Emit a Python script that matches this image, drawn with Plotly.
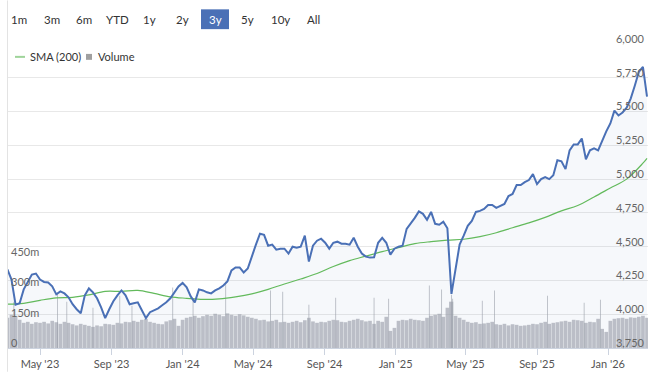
import pandas as pd
import plotly.graph_objects as go

# ---------------- data ----------------
week_start = "2023-03-06"
n_weeks = 158
price = [4331, 4257, 4070, 4081, 4184, 4235, 4294, 4301, 4257, 4239,
         4235, 4206, 4147, 4169, 4154, 4125, 4074, 4037, 4007, 4140,
         4191, 4162, 4118, 4051, 3971, 4037, 4096, 4140, 4176, 4140,
         4074, 4081, 4088, 4029, 3971, 4015, 4029, 4044, 4066, 4088,
         4118, 4162, 4206, 4232, 4199, 4132, 4088, 4184, 4176, 4162,
         4154, 4176, 4191, 4213, 4243, 4324, 4346, 4346, 4309, 4338,
         4434, 4515, 4596, 4588, 4507, 4515, 4478, 4485, 4485, 4449,
         4500, 4493, 4500, 4581, 4390, 4507, 4544, 4559, 4529, 4485,
         4529, 4537, 4522, 4522, 4515, 4566, 4500, 4449, 4426, 4419,
         4422, 4529, 4566, 4529, 4441, 4485, 4500, 4507, 4632, 4669,
         4713, 4761, 4743, 4699, 4757, 4669, 4662, 4684, 4636, 4150,
         4331, 4515, 4581, 4654, 4691, 4757, 4765, 4779, 4809, 4809,
         4787, 4801, 4816, 4875, 4890, 4956, 4956, 4978, 4993, 5037,
         4963, 5000, 5015, 5000, 5029, 5140, 5132, 5074, 5213, 5257,
         5257, 5301, 5147, 5213, 5228, 5213, 5287, 5353, 5412, 5507,
         5471, 5493, 5529, 5596, 5691, 5794, 5830, 5610]

# SMA(200), every 4th week plus the last week
sma = [4074, 4081, 4103, 4121, 4125, 4143, 4169, 4169, 4176, 4154,
       4129, 4118, 4110, 4114, 4129, 4151, 4184, 4224, 4261, 4301,
       4353, 4397, 4430, 4463, 4493, 4522, 4537, 4548, 4555, 4574,
       4603, 4640, 4676, 4717, 4765, 4805, 4868, 4934, 5000, 5118,
       5154]

# weekly volume, millions
volume = [150, 165, 160, 140, 125, 130, 120, 128, 125, 130,
          122, 135, 128, 120, 130, 125, 118, 112, 120, 115,
          110, 105, 112, 108, 120, 118, 115, 125, 122, 130,
          128, 135, 130, 140, 145, 130, 125, 120, 118, 132,
          138, 145, 110, 140, 150, 155, 160, 150, 158, 165,
          160, 170, 165, 158, 172, 165, 160, 168, 162, 155,
          150, 145, 138, 140, 132, 135, 140, 128, 130, 125,
          130, 135, 128, 138, 150, 132, 125, 130, 128, 135,
          140, 138, 130, 128, 135, 140, 145, 138, 132, 135,
          120, 135, 130, 155, 85, 100, 135, 140, 138, 145,
          140, 138, 135, 150, 160, 165, 170, 155, 200, 230,
          160, 150, 140, 130, 125, 128, 120, 122, 125, 130,
          118, 115, 120, 112, 118, 115, 110, 112, 115, 120,
          118, 125, 130, 120, 125, 128, 132, 135, 130, 140,
          138, 135, 125, 130, 128, 145, 95, 80, 135, 145,
          148, 150, 145, 152, 150, 155, 160, 150]

# single high-volume sessions
spike_dates = ["2023-03-17", "2023-05-31", "2023-06-16", "2023-07-31", "2023-09-15",
               "2023-10-06", "2023-12-15", "2024-01-19", "2024-03-15", "2024-05-31",
               "2024-06-21", "2024-08-05", "2024-09-20", "2024-11-25", "2024-12-20",
               "2025-02-28", "2025-03-21", "2025-04-04", "2025-04-07", "2025-04-09",
               "2025-05-30", "2025-06-20", "2025-09-19", "2025-11-21", "2025-12-19"]
spike_vols = [230, 270, 230, 200, 260, 210, 300, 240, 330, 285,
              280, 215, 250, 250, 245, 310, 290, 230, 265, 245,
              235, 285, 260, 225, 240]

x_tick_dates = ["2023-05-01", "2023-09-01", "2024-01-01", "2024-05-01", "2024-09-01",
                "2025-01-01", "2025-05-01", "2025-09-01", "2026-01-01"]
x_tick_labels = ["May '23", "Sep '23", "Jan '24", "May '24", "Sep '24",
                 "Jan '25", "May '25", "Sep '25", "Jan '26"]
price_ticks = [3750, 4000, 4250, 4500, 4750, 5000, 5250, 5500, 5750, 6000]
vol_ticks = [0, 150, 300, 450]
vol_tick_labels = ["0", "150m", "300m", "450m"]
buttons = ["1m", "3m", "6m", "YTD", "1y", "2y", "3y", "5y", "10y", "All"]
selected_button = "3y"

# ---------------- figure ----------------
weeks = pd.date_range(week_start, periods=n_weeks, freq="7D")
sma_dates = list(weeks[::4]) + [weeks[-1]]
DAY = 86400000

W, H = 653, 375
ML, MR, MT, MB = 8, 5, 44, 24
PW, PH = W - ML - MR, H - MT - MB


def px(x):
    return (x - ML) / PW


def py(y):
    return (H - MB - y) / PH


FONT = "Lato, 'Open Sans', sans-serif"
BLUE = "#4a70b6"
GREEN = "#63ba5c"
VOLC = "rgba(150,155,166,0.62)"

fig = go.Figure()
fig.add_trace(go.Scatter(x=weeks, y=price, mode="none", fill="tozeroy",
                         fillcolor="rgba(74,112,182,0.05)", yaxis="y",
                         hoverinfo="skip", showlegend=False))
fig.add_trace(go.Bar(x=weeks, y=volume, yaxis="y2", width=6.3 * DAY,
                     marker=dict(color=VOLC, line=dict(width=0)),
                     name="Volume", showlegend=False))
fig.add_trace(go.Bar(x=pd.to_datetime(spike_dates), y=spike_vols, yaxis="y2",
                     width=1.6 * DAY, marker=dict(color=VOLC, line=dict(width=0)),
                     name="Volume", showlegend=False))
fig.add_trace(go.Scatter(x=sma_dates, y=sma, yaxis="y3", mode="lines",
                         line=dict(color=GREEN, width=1.2, shape="spline"),
                         name="SMA (200)", showlegend=False))
fig.add_trace(go.Scatter(x=weeks, y=price, yaxis="y3", mode="lines",
                         line=dict(color=BLUE, width=2), name="Price",
                         showlegend=False))

x_range = ["2023-03-07", "2026-03-10 17:00"]
p_range = [3750, 6000]

shapes = [
    # left border line
    dict(type="line", xref="paper", yref="paper", x0=px(7.5), x1=px(7.5),
         y0=py(0), y1=py(H), line=dict(color="#e3e3e3", width=1)),
    # selected range button
    dict(type="rect", xref="paper", yref="paper", x0=px(201), x1=px(229),
         y0=py(29), y1=py(9), fillcolor="#4a70b6", line=dict(width=0)),
    # legend symbols
    dict(type="line", xref="paper", yref="paper", x0=px(15), x1=px(25),
         y0=py(57), y1=py(57), line=dict(color="#9fd49a", width=2)),
    dict(type="rect", xref="paper", yref="paper", x0=px(86), x1=px(92),
         y0=py(60), y1=py(54), fillcolor="#a0a0a0", line=dict(width=0)),
]

annotations = []
btn_centers = [19, 52, 84, 117, 149, 182, 215, 247, 280, 313]
for lbl, cx in zip(buttons, btn_centers):
    annotations.append(dict(text=lbl, xref="paper", yref="paper", x=px(cx), y=py(19),
                            xanchor="center", yanchor="middle", showarrow=False,
                            font=dict(family=FONT, size=11.5,
                                      color="#ffffff" if lbl == selected_button else "#333333")))
annotations.append(dict(text="SMA (200)", xref="paper", yref="paper", x=px(28), y=py(57),
                        xanchor="left", yanchor="middle", showarrow=False,
                        font=dict(family=FONT, size=11, color="#333333")))
annotations.append(dict(text="Volume", xref="paper", yref="paper", x=px(96), y=py(57),
                        xanchor="left", yanchor="middle", showarrow=False,
                        font=dict(family=FONT, size=11, color="#333333")))

fig.update_layout(
    width=W, height=H, margin=dict(l=ML, r=MR, t=MT, b=MB),
    paper_bgcolor="white", plot_bgcolor="white",
    barmode="overlay", showlegend=False,
    font=dict(family=FONT, size=11, color="#555555"),
    shapes=shapes, annotations=annotations,
    xaxis=dict(type="date", range=x_range, tickvals=x_tick_dates, ticktext=x_tick_labels,
               ticks="outside", ticklen=6, tickcolor="#ccd3df", showline=True,
               linecolor="#ccd3df", linewidth=1, showgrid=False, zeroline=False,
               tickfont=dict(family=FONT, size=11, color="#555555")),
    yaxis=dict(side="right", range=p_range, tickvals=price_ticks, tickformat=",d",
               ticklabelposition="inside", ticklabelshift=-5, ticklabelstandoff=1,
               ticklabeloverflow="allow", showgrid=True, gridcolor="#e8e8e8",
               gridwidth=1, zeroline=False, showline=False, ticks="",
               tickfont=dict(family=FONT, size=11, color="#666666")),
    yaxis2=dict(overlaying="y", side="left", range=[0, 1510], tickvals=vol_ticks,
                ticktext=vol_tick_labels, ticklabelposition="inside", ticklabelshift=-5,
                ticklabelstandoff=0, ticklabeloverflow="allow", showgrid=False,
                zeroline=False, showline=False, ticks="",
                tickfont=dict(family=FONT, size=11, color="#666666")),
    yaxis3=dict(overlaying="y", side="right", range=p_range, visible=False,
                showgrid=False, zeroline=False),
)

fig.write_html("out.html", config={"displayModeBar": False},
               post_script="document.body.style.margin='0';document.body.style.overflow='hidden';")
